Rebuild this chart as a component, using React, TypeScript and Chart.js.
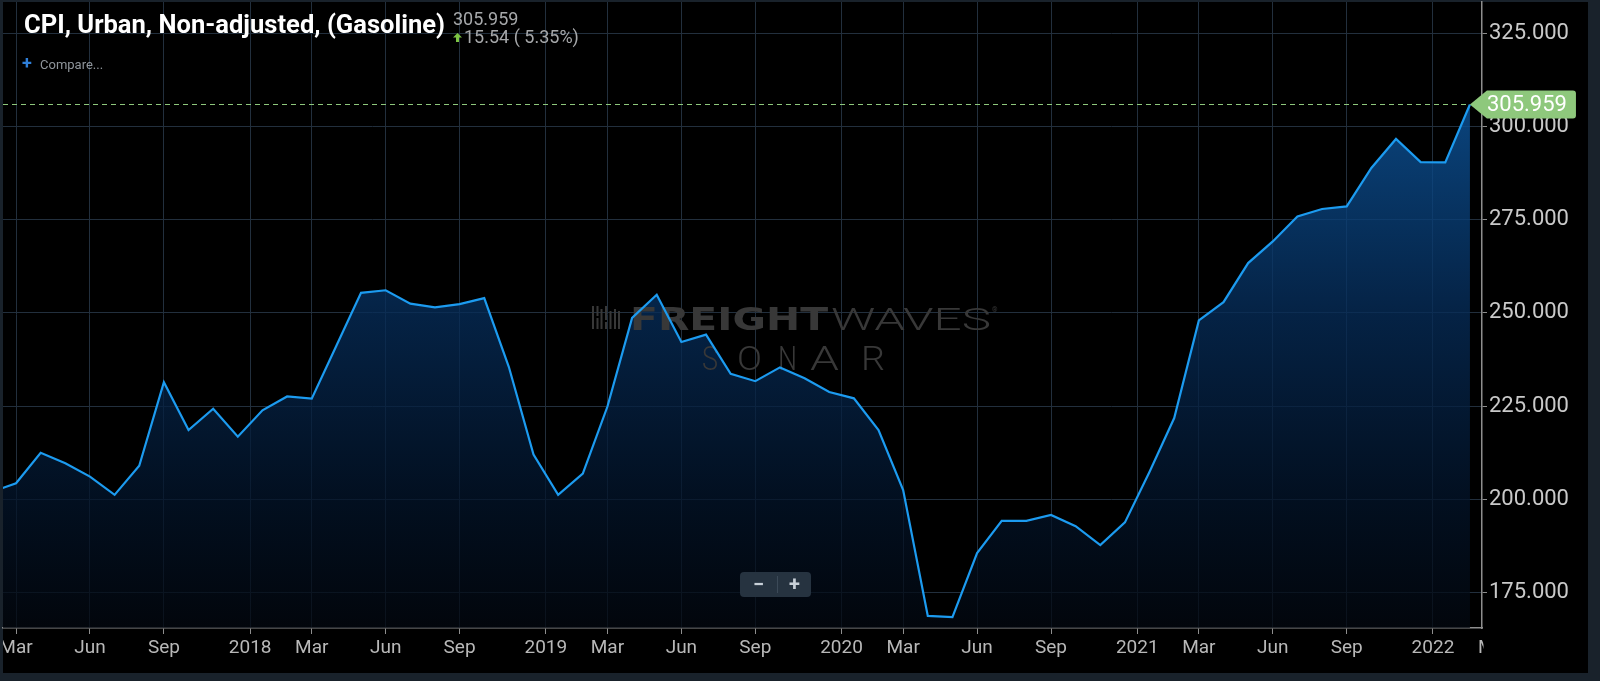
import React, { useEffect, useRef } from 'react';
import { Chart, registerables } from 'chart.js';

Chart.register(...registerables);

// ---------- DATA ----------
const months: string[] = [
  '2017-02', '2017-03', '2017-04', '2017-05', '2017-06', '2017-07', '2017-08', '2017-09', '2017-10', '2017-11', '2017-12',
  '2018-01', '2018-02', '2018-03', '2018-04', '2018-05', '2018-06', '2018-07', '2018-08', '2018-09', '2018-10', '2018-11', '2018-12',
  '2019-01', '2019-02', '2019-03', '2019-04', '2019-05', '2019-06', '2019-07', '2019-08', '2019-09', '2019-10', '2019-11', '2019-12',
  '2020-01', '2020-02', '2020-03', '2020-04', '2020-05', '2020-06', '2020-07', '2020-08', '2020-09', '2020-10', '2020-11', '2020-12',
  '2021-01', '2021-02', '2021-03', '2021-04', '2021-05', '2021-06', '2021-07', '2021-08', '2021-09', '2021-10', '2021-11', '2021-12',
  '2022-01', '2022-02',
];

const cpiValues: number[] = [
  202.0, 204.3, 212.5, 209.7, 206.1, 201.2, 209.0, 231.4, 218.6, 224.3, 216.8,
  223.9, 227.6, 227.0, 241.2, 255.4, 256.1, 252.5, 251.5, 252.4, 254.0, 235.5, 212.0,
  201.2, 206.9, 224.9, 248.7, 254.9, 242.2, 244.2, 233.7, 231.7, 235.4, 232.5, 228.8,
  227.1, 218.6, 202.5, 168.7, 168.4, 185.6, 194.2, 194.2, 195.8, 192.8, 187.7, 193.8,
  207.4, 221.8, 248.0, 252.9, 263.4, 269.2, 275.9, 277.9, 278.6, 288.9, 296.7, 290.5,
  290.419, 305.959,
];

// x tick positions in month index (0 = first month); year ticks sit between Dec and Jan
const xTickPositions: number[] = [1, 4, 7, 10.5, 13, 16, 19, 22.5, 25, 28, 31, 34.5, 37, 40, 43, 46.5, 49, 52, 55, 58.5, 61];
const xTickLabels: string[] = ['Mar', 'Jun', 'Sep', '2018', 'Mar', 'Jun', 'Sep', '2019', 'Mar', 'Jun', 'Sep', '2020', 'Mar', 'Jun', 'Sep', '2021', 'Mar', 'Jun', 'Sep', '2022', 'Mar'];
const yTickValues: number[] = [175, 200, 225, 250, 275, 300, 325];

const TITLE = 'CPI, Urban, Non-adjusted, (Gasoline)';

// ---------- STYLE ----------
const FRAME = '#19222b';
const GRID = '#222f3d';
const AXIS = '#8e8e8e';
const LINE = '#1c9bf0';
const TAG = '#8ec87c';
const X_MAX = 60.49;

function fitText(ctx: CanvasRenderingContext2D, text: string, x: number, baseline: number, width: number, font: string) {
  ctx.save();
  ctx.font = font;
  ctx.textAlign = 'left';
  ctx.textBaseline = 'alphabetic';
  const w = ctx.measureText(text).width || 1;
  ctx.translate(x, baseline);
  ctx.scale(width / w, 1);
  ctx.fillText(text, 0, 0);
  ctx.restore();
}

const framePlugin = {
  id: 'frame',
  beforeDraw(chart: any) {
    const ctx = chart.ctx as CanvasRenderingContext2D;
    ctx.save();
    ctx.fillStyle = FRAME;
    ctx.fillRect(0, 0, chart.width, chart.height);
    ctx.fillStyle = '#000000';
    ctx.fillRect(3, 2, 1585, 671);
    ctx.restore();
  },
  afterDraw(chart: any) {
    // clip x labels to the plot width, as the original does
    const ctx = chart.ctx as CanvasRenderingContext2D;
    const ca = chart.chartArea;
    ctx.save();
    ctx.fillStyle = FRAME;
    ctx.fillRect(0, ca.bottom + 2, 3, 673 - ca.bottom - 2);
    ctx.fillStyle = '#000000';
    ctx.fillRect(ca.right + 1.5, ca.bottom + 8, 1588 - ca.right - 1.5, 673 - ca.bottom - 8);
    ctx.restore();
  },
};

const watermarkPlugin = {
  id: 'watermark',
  beforeDatasetDraw(chart: any) {
    const ctx = chart.ctx as CanvasRenderingContext2D;
    ctx.save();
    ctx.fillStyle = '#383838';
    const bars: [number, number, number][] = [
      [592, 306, 23], [596.5, 306, 23], [600.5, 309, 20], [605, 306, 23], [609.5, 311, 18], [614, 309, 20], [618, 311, 18],
    ];
    bars.forEach(([bx, by, bh]) => ctx.fillRect(bx, by, 2, bh));
    ctx.fillStyle = '#000000';
    ctx.fillRect(596, 316, 3, 2);
    ctx.fillRect(604, 320, 3, 2);
    ctx.fillStyle = '#383838';
    fitText(ctx, 'FREIGHT', 630, 329.5, 198, '900 32px "DejaVu Sans"');
    fitText(ctx, 'WAVES', 831, 329.5, 160, '300 32px Roboto');
    ctx.font = '7px Roboto';
    ctx.fillText('®', 992, 312);
    const sonar: [string, number, number][] = [['S', 702, 16], ['O', 737, 25], ['N', 778, 19], ['A', 810, 29], ['R', 861, 24]];
    sonar.forEach(([ch, lx, lw]) => fitText(ctx, ch, lx, 369.5, lw, '300 33px Roboto'));
    ctx.restore();
  },
};

const lastValuePlugin = {
  id: 'lastValue',
  afterDatasetsDraw(chart: any) {
    const ctx = chart.ctx as CanvasRenderingContext2D;
    const meta = chart.getDatasetMeta(0);
    const pt = meta.data[meta.data.length - 1];
    const ca = chart.chartArea;
    const x = pt.x;
    const y = pt.y;
    ctx.save();
    ctx.strokeStyle = TAG;
    ctx.lineWidth = 1;
    ctx.setLineDash([5, 4]);
    ctx.beginPath();
    ctx.moveTo(ca.left, Math.round(y) + 0.5);
    ctx.lineTo(x, Math.round(y) + 0.5);
    ctx.stroke();
    ctx.setLineDash([]);
    const h = 14;
    const right = x + 106;
    const r = 3;
    ctx.fillStyle = TAG;
    ctx.beginPath();
    ctx.moveTo(x, y);
    ctx.lineTo(x + 17, y - h);
    ctx.lineTo(right - r, y - h);
    ctx.quadraticCurveTo(right, y - h, right, y - h + r);
    ctx.lineTo(right, y + h - r);
    ctx.quadraticCurveTo(right, y + h, right - r, y + h);
    ctx.lineTo(x + 17, y + h);
    ctx.closePath();
    ctx.fill();
    ctx.fillStyle = '#ffffff';
    ctx.font = '22px Roboto';
    ctx.textBaseline = 'middle';
    ctx.textAlign = 'left';
    const last = cpiValues[cpiValues.length - 1];
    ctx.fillText(last.toFixed(3), x + 17, y + 1);
    ctx.restore();
  },
};

export default function App() {
  const canvasRef = useRef<HTMLCanvasElement>(null);
  const titleRef = useRef<HTMLSpanElement>(null);

  const last = cpiValues[cpiValues.length - 1];
  const prev = cpiValues[cpiValues.length - 2];
  const change = last - prev;
  const pct = (change / prev) * 100;

  useEffect(() => {
    const t = titleRef.current;
    if (t) {
      t.style.transform = 'none';
      const w = t.offsetWidth || 1;
      t.style.transform = `scaleX(${421 / w})`;
    }
    const canvas = canvasRef.current;
    if (!canvas) return;
    const points = cpiValues.map((v, i) => ({ x: i, y: v }));
    const inRange = (c: any) => c && c.tick && c.tick.value <= X_MAX;

    const chart = new Chart(canvas, {
      type: 'line',
      data: {
        labels: months,
        datasets: [
          {
            data: points as any,
            borderColor: LINE,
            borderWidth: 2.2,
            pointRadius: 0,
            tension: 0,
            fill: 'start',
            backgroundColor: (c: any) => {
              const ca = c.chart.chartArea;
              if (!ca) return 'rgba(10,60,110,0.7)';
              const g = c.chart.ctx.createLinearGradient(0, ca.top, 0, ca.bottom);
              g.addColorStop(0, 'rgba(16,102,184,0.82)');
              g.addColorStop(0.2, 'rgba(12,80,148,0.8)');
              g.addColorStop(0.5, 'rgba(6,44,88,0.78)');
              g.addColorStop(0.8, 'rgba(3,20,42,0.75)');
              g.addColorStop(1, 'rgba(3,8,16,0.75)');
              return g;
            },
          },
        ],
      },
      options: {
        animation: false,
        responsive: false,
        maintainAspectRatio: false,
        layout: { padding: { left: 3, top: 2, right: 12, bottom: 8 }, autoPadding: false },
        plugins: {
          legend: { display: false },
          tooltip: { enabled: false },
          title: { display: false },
        },
        scales: {
          x: {
            type: 'linear',
            min: 0.471,
            max: X_MAX,
            afterBuildTicks: (s: any) => {
              s.ticks = xTickPositions.map((v) => ({ value: v }));
            },
            afterFit: (s: any) => {
              s.height = 45;
              s.paddingLeft = 0;
              s.paddingRight = 0;
              s.paddingTop = 0;
              s.paddingBottom = 0;
            },
            ticks: {
              autoSkip: false,
              maxRotation: 0,
              padding: 3,
              color: '#b8b8b8',
              font: { family: 'Roboto', size: 19 },
              callback: (_v: any, i: number) => xTickLabels[i],
            },
            grid: {
              color: (c: any) => (inRange(c) ? GRID : 'rgba(0,0,0,0)'),
              tickColor: (c: any) => (inRange(c) ? AXIS : 'rgba(0,0,0,0)'),
              tickLength: 6,
              lineWidth: 1,
            },
            border: { color: AXIS, width: 1.5 },
          },
          y: {
            position: 'right',
            min: 165.47,
            max: 333.45,
            afterBuildTicks: (s: any) => {
              s.ticks = yTickValues.map((v) => ({ value: v }));
            },
            afterFit: (s: any) => {
              s.width = 106;
              s.paddingTop = 0;
              s.paddingBottom = 0;
              s.paddingLeft = 0;
              s.paddingRight = 0;
            },
            ticks: {
              padding: 2,
              color: '#c9c9c9',
              font: { family: 'Roboto', size: 22 },
              callback: (v: any) => Number(v).toFixed(3),
            },
            grid: { color: GRID, tickColor: AXIS, tickLength: 5, lineWidth: 1 },
            border: { color: AXIS, width: 1.5 },
          },
        },
      } as any,
      plugins: [framePlugin, watermarkPlugin, lastValuePlugin],
    });
    return () => chart.destroy();
  }, []);

  const gray = '#a6a8aa';
  return (
    <div style={{ position: 'fixed', left: 0, top: 0, width: 1600, height: 681, background: FRAME, overflow: 'hidden' }}>
      <canvas ref={canvasRef} width={1600} height={681} style={{ position: 'absolute', left: 0, top: 0, width: 1600, height: 681 }} />
      <span
        ref={titleRef}
        style={{
          position: 'absolute', left: 24, top: 12, fontFamily: 'Roboto', fontWeight: 700, fontSize: 25,
          lineHeight: '25px', color: '#ffffff', whiteSpace: 'nowrap', transformOrigin: '0 0',
        }}
      >
        {TITLE}
      </span>
      <span style={{ position: 'absolute', left: 453, top: 10, fontFamily: 'Roboto', fontSize: 18, lineHeight: '18px', color: gray, whiteSpace: 'nowrap' }}>
        {last.toFixed(3)}
      </span>
      <svg style={{ position: 'absolute', left: 453, top: 33 }} width={9} height={9} viewBox="0 0 9 9">
        <polygon points="4.5,0 9,4.5 6,4.5 6,9 3,9 3,4.5 0,4.5" fill="#7cc444" />
      </svg>
      <span style={{ position: 'absolute', left: 464, top: 28, fontFamily: 'Roboto', fontSize: 18, lineHeight: '18px', color: gray, whiteSpace: 'nowrap' }}>
        {`${change.toFixed(2)} ( ${pct.toFixed(2)}%)`}
      </span>
      <span style={{ position: 'absolute', left: 22, top: 54, fontFamily: 'Roboto', fontWeight: 700, fontSize: 18, lineHeight: '18px', color: '#2f7fd8' }}>+</span>
      <span style={{ position: 'absolute', left: 40, top: 58, fontFamily: 'Roboto', fontSize: 13, lineHeight: '13px', color: '#8f959b', whiteSpace: 'nowrap' }}>
        Compare...
      </span>
      <div style={{ position: 'absolute', left: 740, top: 572, width: 71, height: 25, background: '#263340', borderRadius: 4 }}>
        <span style={{ position: 'absolute', left: 0, top: 0, width: 37, height: 25, lineHeight: '25px', textAlign: 'center', fontFamily: 'Roboto', fontWeight: 700, fontSize: 20, color: '#c8d0d8' }}>−</span>
        <div style={{ position: 'absolute', left: 37, top: 4, width: 1, height: 17, background: '#3c4a58' }} />
        <span style={{ position: 'absolute', left: 38, top: 0, width: 33, height: 25, lineHeight: '25px', textAlign: 'center', fontFamily: 'Roboto', fontWeight: 700, fontSize: 20, color: '#c8d0d8' }}>+</span>
      </div>
    </div>
  );
}
